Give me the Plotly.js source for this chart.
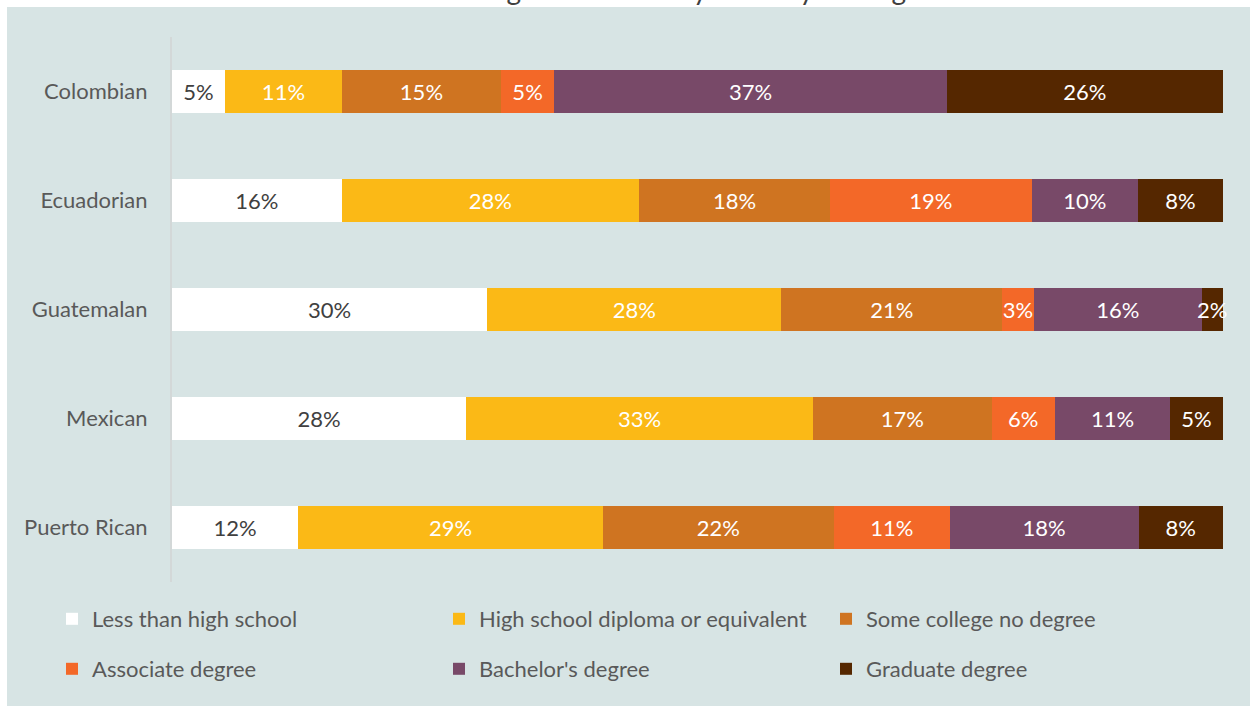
<!DOCTYPE html>
<html>
<head>
<meta charset="utf-8">
<script src="https://cdn.plot.ly/plotly-3.0.1.min.js"></script>
<style>
  html, body { margin: 0; padding: 0; background: #ffffff; }
  #chart { width: 1250px; height: 706px; }
</style>
</head>
<body>
<div id="chart"></div>
<script>
// ---- Data ----
var categories = ['Colombian', 'Ecuadorian', 'Guatemalan', 'Mexican', 'Puerto Rican'];
var seriesNames = ['Less than high school', 'High school diploma or equivalent', 'Some college no degree',
                   'Associate degree', "Bachelor's degree", 'Graduate degree'];
var lessThanHighSchool = [5, 16, 30, 28, 12];
var highSchoolDiploma  = [11, 28, 28, 33, 29];
var someCollege        = [15, 18, 21, 17, 22];
var associateDegree    = [5, 19, 3, 6, 11];
var bachelorsDegree    = [37, 10, 16, 11, 18];
var graduateDegree     = [26, 8, 2, 5, 8];
var chartTitle = 'Degree Attained by Country of Origin';

// ---- Styling ----
var seriesValues = [lessThanHighSchool, highSchoolDiploma, someCollege, associateDegree, bachelorsDegree, graduateDegree];
var seriesColors = ['#FFFFFF', '#FBB916', '#CF7421', '#F36828', '#784968', '#552700'];
var textColors   = ['#404040', '#FFFFFF', '#FFFFFF', '#FFFFFF', '#FFFFFF', '#FFFFFF'];
var FONT = 'Lato, "Open Sans", sans-serif';

var W = 1250, H = 706;
var xMax = 100.4;
var mL = 172, mR = 23, mT = 37, mB = 124;
var pw = W - mL - mR, ph = H - mT - mB;

var traces = seriesValues.map(function (vals, i) {
  return {
    type: 'bar',
    orientation: 'h',
    name: seriesNames[i],
    y: categories,
    x: vals,
    text: vals.map(function (v) { return v + '%'; }),
    textposition: 'inside',
    insidetextanchor: 'middle',
    textangle: 0,
    constraintext: 'none',
    cliponaxis: true,
    textfont: { family: FONT, size: 22, color: textColors[i] },
    marker: { color: seriesColors[i], line: { width: 0 } },
    hoverinfo: 'skip',
    legend: i < 3 ? 'legend' : 'legend2'
  };
});

var legendCommon = {
  orientation: 'h',
  xref: 'paper', yref: 'paper',
  x: (52 - mL) / pw, xanchor: 'left', yanchor: 'middle',
  font: { family: FONT, size: 22, color: '#595959' },
  bgcolor: 'rgba(0,0,0,0)',
  entrywidth: 342, entrywidthmode: 'pixels',
  traceorder: 'normal',
  itemclick: false, itemdoubleclick: false
};

var layout = {
  width: W, height: H,
  margin: { l: mL, r: mR, t: mT, b: mB, pad: 0 },
  paper_bgcolor: '#FFFFFF',
  plot_bgcolor: 'rgba(0,0,0,0)',
  barmode: 'stack',
  barnorm: 'percent',
  bargap: 0.6,
  showlegend: true,
  title: {
    text: chartTitle,
    font: { family: FONT, size: 28, color: '#404040' },
    xref: 'paper', x: 0.5, xanchor: 'center',
    yref: 'container', y: 1, yanchor: 'bottom'
  },
  xaxis: {
    range: [0, xMax], showgrid: false, zeroline: false, showticklabels: false,
    showline: false, ticks: '', fixedrange: true
  },
  yaxis: {
    type: 'category', autorange: 'reversed',
    showline: true, linecolor: '#D3D8D8', linewidth: 2,
    showgrid: false, zeroline: false, ticks: '',
    ticklabelstandoff: 18,
    tickfont: { family: FONT, size: 22, color: '#595959' },
    fixedrange: true
  },
  legend: Object.assign({}, legendCommon, { y: -(619 - (mT + ph)) / ph }),
  legend2: Object.assign({}, legendCommon, { y: -(669 - (mT + ph)) / ph }),
  shapes: [{
    type: 'rect', layer: 'below', xref: 'paper', yref: 'paper',
    x0: (7 - mL) / pw, x1: (W + 10 - mL) / pw,
    y0: -(H + 10 - (mT + ph)) / ph, y1: 1 + (mT - 7) / ph,
    fillcolor: '#D7E4E4', line: { width: 0 }
  }]
};

Plotly.newPlot('chart', traces, layout, { displayModeBar: false, staticPlot: true });
</script>
</body>
</html>
